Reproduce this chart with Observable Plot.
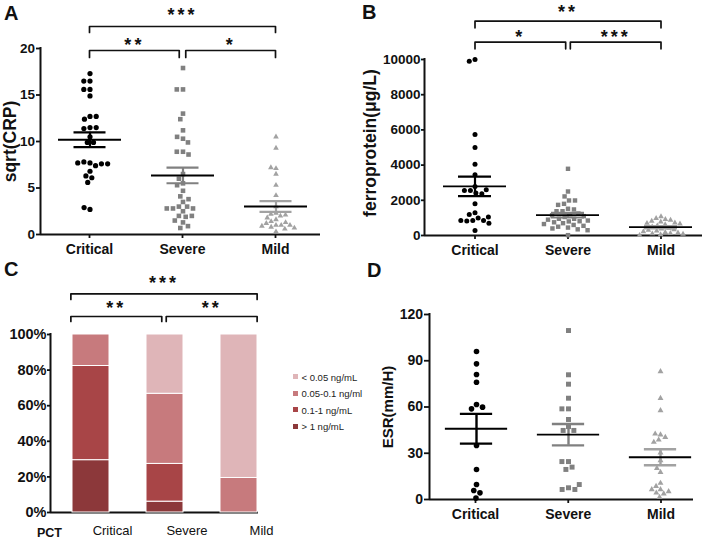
<!DOCTYPE html>
<html>
<head>
<meta charset="utf-8">
<script src="https://cdn.jsdelivr.net/npm/d3@7"></script>
<script src="https://cdn.jsdelivr.net/npm/@observablehq/plot@0.6"></script>
<style>
  html, body { margin: 0; padding: 0; background: #fff; }
  #fig { position: relative; width: 709px; height: 538px; background: #fff; overflow: hidden;
         font-family: "Liberation Sans", Arial, Helvetica, sans-serif; color: #111; }
  .letter { position: absolute; font-weight: bold; font-size: 20px; line-height: 1; }
  .legend { position: absolute; font-size: 9.5px; line-height: 16.5px; color: #222; white-space: nowrap; }
  .legend .sw { display: inline-block; width: 5px; height: 5px; margin-right: 3.5px; vertical-align: middle; position: relative; top: -1px; }
</style>
</head>
<body>
<div id="fig"></div>
<script>
// ---------------- DATA ----------------
const groups = ["Critical", "Severe", "Mild"];

// Panel A: sqrt(CRP)
const crpCritical = [17.3, 16.5, 16.5, 15.6, 15.6, 14.9, 12.7, 12.4, 12.7, 11.5, 11.4, 11.5, 10.5, 9.9, 9.9,
  7.7, 7.8, 7.4, 7.6, 7.7, 7.6, 6.8, 6.3, 6.1, 5.6, 2.7, 2.9];
const crpSevere = [17.9, 15.6, 15.6, 13.0, 12.4, 11.2, 10.3, 10.5, 9.9, 8.9, 8.9, 8.6, 6.5, 6.0, 5.5, 5.3,
  4.7, 4.1, 3.5, 3.8, 3.0, 3.0, 2.8, 2.5, 2.8, 2.8, 2.0, 1.9, 2.0, 1.3, 1.5, 0.7, 0.9];
const crpMild = [10.5, 9.3, 7.1, 7.2, 6.5, 5.3, 4.2, 3.0, 2.3, 2.2, 2.0, 2.1, 1.8, 1.6, 1.4, 1.0, 1.0, 1.2,
  1.3, 1.0, 0.8, 0.9, 0.6, 0.7, 0.3];
const crpTicks = [0, 5, 10, 15, 20];
const crpSig = [
  {from: "Critical", to: "Mild", level: 2, label: "***"},
  {from: "Critical", to: "Severe", level: 1, label: "**"},
  {from: "Severe", to: "Mild", level: 1, label: "*"}
];

// Panel B: ferroprotein (µg/L)
const ferCritical = [10000, 9900, 5740, 5000, 4050, 3450, 2780, 2560, 2420, 2370, 2560, 2600, 1800, 1290, 1190,
  1000, 850, 820, 850, 850, 1050, 700, 290];
const ferSevere = [3790, 2500, 2220, 1990, 1990, 1800, 1740, 1520, 1480, 1380, 1380, 1250, 1200, 1150, 1100,
  1050, 950, 950, 900, 850, 810, 800, 750, 700, 650, 600, 550, 500, 450, 400, 350, 300, 20];
const ferMild = [1080, 980, 920, 880, 820, 780, 720, 700, 660, 620, 560, 500, 420, 380, 340, 300, 260, 220,
  180, 150, 120, 100, 80, 50, 20];
const ferTicks = [0, 2000, 4000, 6000, 8000, 10000];
const ferSig = [
  {from: "Critical", to: "Mild", level: 2, label: "**"},
  {from: "Critical", to: "Severe", level: 1, label: "*"},
  {from: "Severe", to: "Mild", level: 1, label: "***"}
];

// Panel C: PCT category shares (%), stacked bottom -> top
const pctLevels = ["> 1 ng/mL", "0.1-1 ng/mL", "0.05-0.1 ng/ml", "< 0.05 ng/mL"];
const pctCritical = [29.4, 52.9, 17.7, 0];
const pctSevere = [6.1, 21.2, 39.4, 33.3];
const pctMild = [0, 0, 19.4, 80.6];
const pctTicks = [0, 20, 40, 60, 80, 100];
const pctSig = [
  {from: "Critical", to: "Mild", level: 2, label: "***"},
  {from: "Critical", to: "Severe", level: 1, label: "**"},
  {from: "Severe", to: "Mild", level: 1, label: "**"}
];

// Panel D: ESR (mm/H)
const esrCritical = [96.0, 88.0, 81.1, 76.1, 61.6, 58.8, 59.9, 35.0, 19.5, 9.7, 5.8, 4.3, 0.9];
const esrSevere = [109.6, 80.9, 74.8, 65.7, 58.8, 58.8, 51.9, 47.3, 44.8, 44.8, 24.6, 24.6, 21.0, 19.5, 7.6,
  6.5, 6.5, 9.7];
const esrMild = [83.0, 65.7, 57.7, 42.0, 38.7, 40.4, 42.6, 37.2, 30.3, 25.3, 17.7, 20.3, 10.6, 8.6, 6.5, 4.3,
  3.7, 5.2, 6.5, 1.5];
const esrTicks = [0, 30, 60, 90, 120];

// ---------------- STYLE ----------------
const INK = "#111";
const FONT = "'Liberation Sans', Arial, Helvetica, sans-serif";
const SYMBOLS = ["circle", "square", "triangle"];
const FILLS = ["#000000", "#808080", "#a2a2a2"];
const SEM_COLORS = ["#000000", "#808080", "#a2a2a2"];
const PCT_COLORS = ["#8c383a", "#a84547", "#c77a7d", "#dfb5b8"];
const svgStyle = {fontFamily: FONT, fontWeight: "bold", color: INK, background: "transparent", overflow: "visible"};

const fig = document.getElementById("fig");
function put(node, left, top) {
  node.style.position = "absolute";
  node.style.left = left + "px";
  node.style.top = top + "px";
  fig.appendChild(node);
  return node;
}

function basePlot(L, sig, extra = []) {
  const k = (L.y0 - L.yTop) / (L.yMax - L.yMin);
  const yAt = px => L.yMax + (L.yTop - px) / k;
  const last = groups.length - 1;
  const marks = [
    Plot.axisY({ticks: L.ticks, tickFormat: L.tickFormat || (d => String(d)), tickSize: L.tickSize, tickPadding: L.tickPadding,
      fontSize: L.tickFont, fontWeight: "bold", strokeWidth: 1.8, label: null}),
    Plot.axisX({ticks: [0, 1, 2], tickFormat: d => groups[d], tickSize: L.xTickSize, tickPadding: L.xTickPadding,
      fontSize: L.xFont, fontWeight: L.xWeight || "bold", dx: L.xDx || 0, strokeWidth: 1.8, label: null}),
    Plot.ruleY([L.yMin], {stroke: INK, strokeWidth: 2}),
    Plot.ruleX([0], {y1: L.yMin, y2: L.yMax, dx: L.axisX - L.c0, stroke: INK, strokeWidth: 2, strokeLinecap: "square"})
  ];
  if (L.title) {
    marks.push(Plot.text([L.title], {frameAnchor: "left", textAnchor: "middle", lineAnchor: "middle", rotate: -90,
      dx: L.titleX - L.axisX, dy: L.titleDy || 0, fontSize: L.titleFont, fontWeight: "bold", fill: INK}));
  }
  for (const b of sig) {
    const i1 = groups.indexOf(b.from), i2 = groups.indexOf(b.to);
    const x1 = i1 === 0 ? -L.edge : i1 + L.gap;
    const x2 = i2 === last ? i2 + L.edge : i2 - L.gap;
    const lv = L.levels[b.level - 1];
    const yLine = yAt(lv.line), yTip = yAt(lv.line + lv.tip);
    marks.push(Plot.line([[x1, yTip], [x1, yLine], [x2, yLine], [x2, yTip]],
      {x: d => d[0], y: d => d[1], stroke: INK, strokeWidth: 1.7}));
    marks.push(Plot.text([b.label], {x: () => (x1 + x2) / 2, y: () => yAt(lv.text), fontSize: L.starFont,
      fontWeight: "bold", dy: L.starFont * 0.27, fill: INK}));
  }
  marks.push(...extra);
  const svg = Plot.plot({
    width: L.width, height: L.height,
    marginLeft: L.axisX, marginRight: L.width - L.axisEnd, marginTop: L.yTop, marginBottom: L.height - L.y0,
    x: {domain: [0, 2], range: [L.c0, L.c2], label: null},
    y: {domain: [L.yMin, L.yMax], label: null},
    style: svgStyle,
    marks
  });
  d3.select(svg).selectAll("text").filter(function () { return /^\*+$/.test(this.textContent); })
    .attr("letter-spacing", "3px");
  return svg;
}

function dotsPlot(L, series) {
  const rows = series.flatMap((vals, i) => vals.map(v => ({group: groups[i], value: v})));
  const stats = series.map((vals, i) => {
    const m = d3.mean(vals), se = d3.deviation(vals) / Math.sqrt(vals.length);
    return {group: groups[i], mean: m, lo: m - se, hi: m + se};
  });
  const meanInset = (L.step - L.meanW) / 2, capInset = (L.step - L.capW) / 2;
  const marks = [];
  groups.forEach((g, i) => {
    marks.push(Plot.dot(rows.filter(d => d.group === g), Plot.dodgeX("middle", {
      fx: "group", y: "value", r: L.r[i], padding: L.spacing - 2 * L.r[i], symbol: SYMBOLS[i], fill: FILLS[i]})));
  });
  stats.forEach((s, i) => {
    const col = SEM_COLORS[i];
    marks.push(
      Plot.ruleX([s], {fx: "group", x: () => 0.5, y1: "lo", y2: "hi", stroke: col, strokeWidth: L.semSW}),
      Plot.ruleY([s], {fx: "group", y: "hi", stroke: col, strokeWidth: L.semSW, insetLeft: capInset, insetRight: capInset}),
      Plot.ruleY([s], {fx: "group", y: "lo", stroke: col, strokeWidth: L.semSW, insetLeft: capInset, insetRight: capInset}),
      Plot.ruleY([s], {fx: "group", y: "mean", stroke: "#000", strokeWidth: L.meanSW, insetLeft: meanInset, insetRight: meanInset})
    );
  });
  return Plot.plot({
    width: L.width, height: L.height,
    marginLeft: L.frameLeft, marginRight: L.width - L.frameLeft - 3 * L.step,
    marginTop: L.yTop, marginBottom: L.height - L.y0,
    fx: {domain: groups, padding: 0, axis: null, label: null},
    x: {domain: [0, 1], axis: null},
    y: {domain: [L.yMin, L.yMax], axis: null},
    style: svgStyle,
    marks
  });
}

// ---------------- PANEL A ----------------
const layA = {width: 330, height: 262, axisX: 40, axisEnd: 320, c0: 89, c2: 275, y0: 234, yTop: 48, yMin: 0, yMax: 20,
  ticks: crpTicks, tickSize: 4, tickPadding: 1.5, tickFont: 13.5, xFont: 14, xTickSize: 4, xTickPadding: 6,
  title: "sqrt(CRP)", titleX: 10, titleFont: 17.5, edge: 0, gap: 0.035, starFont: 18,
  levels: [{line: 50, tip: 7, text: 40}, {line: 26, tip: 6, text: 10}],
  frameLeft: 42.5, step: 93, r: [2.6, 2.6, 2.1], spacing: 8.8, meanW: 63, capW: 32, semSW: 2.2, meanSW: 1.8};
put(basePlot(layA, crpSig), 0, 0);
put(dotsPlot(layA, [crpCritical, crpSevere, crpMild]), 0, 0);

// ---------------- PANEL B ----------------
const layB = {width: 359, height: 262, axisX: 74, axisEnd: 352, c0: 124.5, c2: 310.5, y0: 235, yTop: 59, yMin: 0, yMax: 10000,
  ticks: ferTicks, tickSize: 3, tickPadding: 1, tickFont: 13.5, xFont: 14, xTickSize: 4, xTickPadding: 6,
  title: "ferroprotein(μg/L)", titleX: 20, titleDy: -4.5, titleFont: 17.5, edge: 0, gap: 0.025, starFont: 18,
  levels: [{line: 41.7, tip: 6.6, text: 31.7}, {line: 20.7, tip: 6.6, text: 6.7}],
  frameLeft: 78, step: 93, r: [2.5, 2.5, 2.1], spacing: 7.8, meanW: 63, capW: 33, semSW: 2.2, meanSW: 1.8};
put(basePlot(layB, ferSig), 350, 0);
put(dotsPlot(layB, [ferCritical, ferSevere, ferMild]), 350, 0);

// ---------------- PANEL C ----------------
const layC = {width: 360, height: 278, axisX: 50, axisEnd: 258, c0: 89, c2: 238, y0: 252, yTop: 74, yMin: 0, yMax: 100,
  ticks: pctTicks, tickFormat: d => d + "%", tickSize: 3, tickPadding: 1, tickFont: 14.5,
  xFont: 13, xWeight: "normal", xDx: 23, xTickSize: 0, xTickPadding: 13,
  title: null, edge: 0.25, gap: 0.03, starFont: 18,
  levels: [{line: 56, tip: 5, text: 43.3}, {line: 33.3, tip: 5.7, text: 18.3}]};
const pctSeries = [pctCritical, pctSevere, pctMild];
const pctRows = groups.flatMap((g, i) => pctLevels.map((lv, j) => ({group: g, level: lv, pct: pctSeries[i][j]})))
  .filter(d => d.pct > 0);
put(basePlot(layC, pctSig, [
  Plot.text(["PCT"], {frameAnchor: "bottom-left", textAnchor: "middle", lineAnchor: "middle", dx: -1, dy: 20,
    fontSize: 12.5, fontWeight: "bold", fill: INK})
]), 0, 260);
put(Plot.plot({
  width: 360, height: 278, marginLeft: 0, marginRight: 0, marginTop: 74, marginBottom: 26,
  x: {type: "band", domain: groups, range: [33.75, 294.5], padding: 0.5, axis: null},
  y: {domain: [0, 100], axis: null},
  color: {domain: pctLevels, range: PCT_COLORS},
  style: svgStyle,
  marks: [
    Plot.barY(pctRows, {x: "group", y: "pct", fill: "level", order: pctLevels, stroke: "#fff", strokeWidth: 1})
  ]
}), 0, 260);
// legend (top to bottom: lightest first)
const legend = document.createElement("div");
legend.className = "legend";
pctLevels.slice().reverse().forEach((lv) => {
  const row = document.createElement("div");
  const sw = document.createElement("span");
  sw.className = "sw";
  sw.style.background = PCT_COLORS[pctLevels.indexOf(lv)];
  row.appendChild(sw);
  row.appendChild(document.createTextNode(lv));
  legend.appendChild(row);
});
put(legend, 293, 369.5);

// ---------------- PANEL D ----------------
const layD = {width: 349, height: 278, axisX: 69, axisEnd: 333, c0: 115, c2: 300.5, y0: 239, yTop: 54, yMin: 0, yMax: 120,
  ticks: esrTicks, tickSize: 5, tickPadding: 1.5, tickFont: 14, xFont: 14, xTickSize: 4, xTickPadding: 6,
  title: "ESR(mm/H)", titleX: 28, titleFont: 15, edge: 0, gap: 0.03, starFont: 18, levels: [],
  frameLeft: 68.6, step: 92.75, r: [2.8, 2.8, 2.2], spacing: 8.4, meanW: 63, capW: 33, semSW: 2.4, meanSW: 1.8};
put(basePlot(layD, []), 360, 260);
put(dotsPlot(layD, [esrCritical, esrSevere, esrMild]), 360, 260);

// ---------------- PANEL LETTERS ----------------
[["A", 4, 3], ["B", 362, 2], ["C", 4, 259], ["D", 367, 260]].forEach(([t, x, y]) => {
  const s = document.createElement("div");
  s.className = "letter";
  s.textContent = t;
  put(s, x, y);
});
</script>
</body>
</html>
